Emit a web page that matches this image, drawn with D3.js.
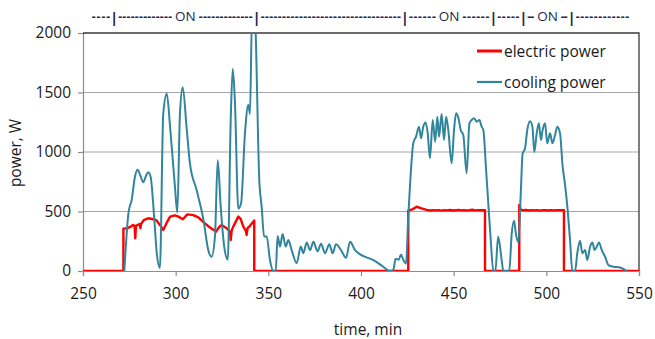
<!DOCTYPE html>
<html>
<head>
<meta charset="utf-8">
<script src="https://cdn.jsdelivr.net/npm/d3@7"></script>
<style>
  body { margin: 0; background: #fff; }
  svg { display: block; font-family: "Open Sans", sans-serif; }
</style>
</head>
<body>
<svg id="chart"></svg>
<script>
// time in minutes, power in W
const coolingTime = [272.3, 274.5, 276.3, 278, 279.5, 281, 282.5, 284, 285.2, 286.5, 288.5, 289.8, 291.5, 293.3, 295.2, 297, 299.6, 300.9, 302.3, 303.8, 306, 307.7, 311.3, 315, 317.6, 319.4, 321.2, 322.7, 324.3, 326.2, 328.1, 329.7, 330.8, 332, 333.8, 335.3, 337.4, 339.2, 340.1, 341.2, 342.6, 345.2, 346.4, 347.7, 349.1, 350.9, 352.7, 354, 355, 356.3, 357.7, 359.4, 360.8, 362.6, 365.3, 367.5, 368.9, 370.7, 372.5, 374.3, 376.6, 378.4, 380.6, 382.9, 384.7, 386.5, 389.6, 391.9, 394.1, 396.8, 399.5, 403, 406.7, 412, 415.6, 417.4, 418.7, 420.3, 421.6, 422.8, 424.3, 425.5, 426.4, 428.2, 429.7, 431.3, 432.4, 433.6, 434.9, 436, 437.2, 438.7, 440, 441.2, 442.1, 443.5, 444.8, 445.9, 447.1, 448.9, 450.2, 451.3, 452.6, 453.8, 455.2, 457, 458.5, 459.7, 461, 462.5, 463.9, 465.1, 466, 467.5, 468.8, 470, 471.4, 472.5, 474, 475.9, 476.8, 480, 481.3, 482.6, 483.6, 484.9, 486.2, 487.2, 488.5, 489.7, 491.2, 492.5, 493.5, 494.8, 496, 497.1, 498, 499.3, 500.5, 502, 503.3, 504.7, 505.9, 507.4, 508.8, 510, 511.5, 512.8, 514, 515.5, 516.7, 518.2, 519.4, 520.9, 522.1, 523.6, 524.9, 526, 527.2, 528.4, 529.9, 531.7, 533.5, 536.2, 539.8, 543.3];
const coolingPower = [0, 485, 600, 790, 850, 800, 745, 800, 830, 790, 430, 150, 25, 1320, 1490, 1210, 710, 490, 1320, 1545, 1185, 905, 680, 430, 175, 120, 290, 930, 540, 205, 95, 1270, 1700, 1410, 525, 570, 1160, 1395, 1320, 2150, 2150, 735, 540, 290, 290, 90, 0, 0, 295, 205, 310, 205, 260, 175, 65, 205, 150, 240, 175, 245, 165, 230, 150, 225, 150, 225, 165, 110, 245, 175, 140, 115, 92, 36, 0, 10, 103, 95, 137, 95, 62, 457, 708, 1073, 1129, 1213, 1115, 1213, 1247, 1157, 947, 1269, 1087, 1297, 1129, 1319, 1101, 1297, 1185, 905, 1185, 1325, 1283, 1185, 1143, 821, 1241, 1269, 1283, 1255, 1269, 1213, 1185, 849, 540, 260, 0, 0, 289, 92, 0, 0, 310, 422, 310, 240, 650, 985, 1030, 1185, 1259, 1213, 1000, 1157, 1241, 1101, 1185, 1241, 1073, 1157, 1073, 1143, 1213, 1157, 877, 737, 513, 260, 0, 0, 149, 255, 149, 176, 92, 204, 240, 176, 204, 240, 176, 120, 50, 36, 30, 0];

const electricTime = [250, 271.8, 271.8, 274, 276, 277, 277.8, 278.2, 278.6, 280.5, 281, 281.4, 283, 285.2, 288, 289.7, 291.5, 293.3, 295, 297, 299.5, 301.5, 303.8, 306.3, 309.5, 312.2, 315.8, 318.5, 321.8, 323.5, 324.8, 327.5, 329.3, 329.7, 330.2, 331.1, 333.8, 335, 336.5, 337.8, 338.3, 338.8, 340.1, 342.4, 342.4, 425.5, 425.5, 428, 430, 432.7, 435.4, 437.5, 439, 440.5, 442, 443.5, 445, 446.5, 448, 449.5, 451, 452.5, 454, 455.5, 457, 458.5, 460, 461.5, 463, 464.5, 466.9, 466.9, 485.4, 485.4, 486.2, 487.5, 489, 490.5, 492, 493.5, 495, 496.5, 498, 499.5, 501, 502.5, 504, 505.5, 507, 508.5, 509.5, 509.5, 550];
const electricPower = [0, 0, 355, 360, 375, 387, 380, 275, 380, 395, 360, 398, 430, 443, 435, 425, 387, 345, 400, 457, 468, 457, 435, 476, 470, 450, 400, 366, 331, 370, 387, 359, 330, 261, 340, 373, 457, 440, 373, 340, 303, 360, 380, 425, 0, 0, 507, 520, 540, 526, 514, 508, 512, 509, 511, 507, 512, 509, 513, 508, 510, 514, 509, 512, 508, 511, 515, 509, 512, 510, 511, 0, 0, 555, 515, 510, 513, 508, 511, 509, 512, 507, 510, 512, 508, 511, 509, 512, 510, 511, 510, 0, 0];

const xTicks = [250, 300, 350, 400, 450, 500, 550];
const yTicks = [0, 500, 1000, 1500, 2000];

// heater state strip above the plot
const stateBounds = [254.7, 266.8, 343.7, 423.7, 471.4, 487.6, 513.7, 544.7];
const stateLabels = ["", "ON", "", "ON", "", "ON", ""];

const seriesNames = ["electric power", "cooling power"];
const seriesColors = ["#ff0000", "#31859c"];

const width = 655, height = 339;
const margin = { top: 33, right: 16, bottom: 68, left: 83 };

const svg = d3.select("#chart").attr("width", width).attr("height", height);

const x = d3.scaleLinear().domain([250, 550]).range([margin.left, width - margin.right]);
const y = d3.scaleLinear().domain([0, 2000]).range([height - margin.bottom, margin.top]);

svg.append("clipPath").attr("id", "plot-clip")
  .append("rect")
  .attr("x", margin.left).attr("y", margin.top)
  .attr("width", width - margin.left - margin.right)
  .attr("height", height - margin.top - margin.bottom);

// gridlines
svg.append("g")
  .selectAll("line")
  .data(yTicks.filter(d => d > 0 && d < 2000))
  .join("line")
  .attr("x1", margin.left).attr("x2", width - margin.right)
  .attr("y1", d => y(d)).attr("y2", d => y(d))
  .attr("stroke", "#a6a6a6").attr("stroke-width", 1.2);

// axes
const yAxis = svg.append("g")
  .attr("transform", `translate(${margin.left},0)`)
  .call(d3.axisLeft(y).tickValues(yTicks).tickFormat(d3.format("d")).tickSize(5).tickPadding(7));
const xAxis = svg.append("g")
  .attr("transform", `translate(0,${height - margin.bottom})`)
  .call(d3.axisBottom(x).tickValues(xTicks).tickFormat(d3.format("d")).tickSize(5).tickPadding(12));

[xAxis, yAxis].forEach(g => {
  g.select(".domain").attr("stroke", "#8c8c8c").attr("stroke-width", 1.2);
  g.selectAll(".tick line").attr("stroke", "#8c8c8c").attr("stroke-width", 1.2);
  g.selectAll(".tick text")
    .attr("fill", "#1a1a1a")
    .style("font-family", "'Open Sans', sans-serif")
    .style("font-size", "15.5px");
});

// plot border top and right
svg.append("path")
  .attr("d", `M${margin.left},${y(2000)}H${x(550)}V${y(0)}`)
  .attr("fill", "none").attr("stroke", "#3a3a3a").attr("stroke-width", 1.3);

// series
const electricLine = d3.line()
  .x((d, i) => x(electricTime[i]))
  .y(d => y(d));
svg.append("path")
  .datum(electricPower)
  .attr("clip-path", "url(#plot-clip)")
  .attr("fill", "none")
  .attr("stroke", seriesColors[0])
  .attr("stroke-width", 2.4)
  .attr("stroke-linejoin", "round")
  .attr("d", electricLine);

const coolingLine = d3.line()
  .x((d, i) => x(coolingTime[i]))
  .y(d => y(d))
  .curve(d3.curveMonotoneX);
svg.append("path")
  .datum(coolingPower)
  .attr("clip-path", "url(#plot-clip)")
  .attr("fill", "none")
  .attr("stroke", seriesColors[1])
  .attr("stroke-width", 2)
  .attr("stroke-linejoin", "round")
  .attr("d", coolingLine);

// legend
const legend = svg.append("g").attr("transform", "translate(477,51)");
seriesNames.forEach((name, i) => {
  const row = legend.append("g").attr("transform", `translate(0,${i * 31})`);
  row.append("line")
    .attr("x1", 0).attr("x2", 25)
    .attr("stroke", seriesColors[i]).attr("stroke-width", i === 0 ? 3 : 2.2);
  row.append("text")
    .attr("x", 27).attr("y", 5.5)
    .attr("fill", "#1a1a1a")
    .style("font-size", "15.5px")
    .text(name);
});

// axis titles
svg.append("text")
  .attr("x", 368).attr("y", 335)
  .attr("text-anchor", "middle")
  .attr("fill", "#1a1a1a")
  .style("font-size", "15.5px")
  .text("time, min");
svg.append("text")
  .attr("transform", "translate(21,153) rotate(-90)")
  .attr("text-anchor", "middle")
  .attr("fill", "#1a1a1a")
  .style("font-size", "15.5px")
  .text("power, W");

// state strip: ----|---- ON ----|...
const strip = svg.append("g").attr("fill", "#23284a");
const stripY = 21;
function dashes(x0, x1) {
  const w = x1 - x0;
  if (w < 4) return;
  const n = Math.max(1, Math.round(w / 4.3));
  strip.append("text")
    .attr("x", x0).attr("y", stripY)
    .attr("textLength", w).attr("lengthAdjust", "spacing")
    .style("font-size", "12px")
    .style("font-weight", "bold")
    .text("-".repeat(n));
}
stateBounds.forEach((t, i) => {
  if (i > 0 && i < stateBounds.length - 1) {
    strip.append("text")
      .attr("x", x(t)).attr("y", stripY + 1.5)
      .attr("text-anchor", "middle")
      .style("font-size", "15px")
      .style("font-weight", "bold")
      .text("|");
  }
  if (i === stateBounds.length - 1) return;
  const a = x(t) + (i > 0 ? 4 : 0);
  const b = x(stateBounds[i + 1]) - (i + 1 < stateBounds.length - 1 ? 4 : 0);
  const label = stateLabels[i];
  if (label) {
    const mid = (a + b) / 2;
    const lab = strip.append("text")
      .attr("x", mid).attr("y", stripY)
      .attr("text-anchor", "middle")
      .style("font-size", "13.5px")
      .text(label);
    const w = lab.node().getComputedTextLength();
    dashes(a, mid - w / 2 - 3);
    dashes(mid + w / 2 + 3, b);
  } else {
    dashes(a, b);
  }
});
</script>
</body>
</html>
